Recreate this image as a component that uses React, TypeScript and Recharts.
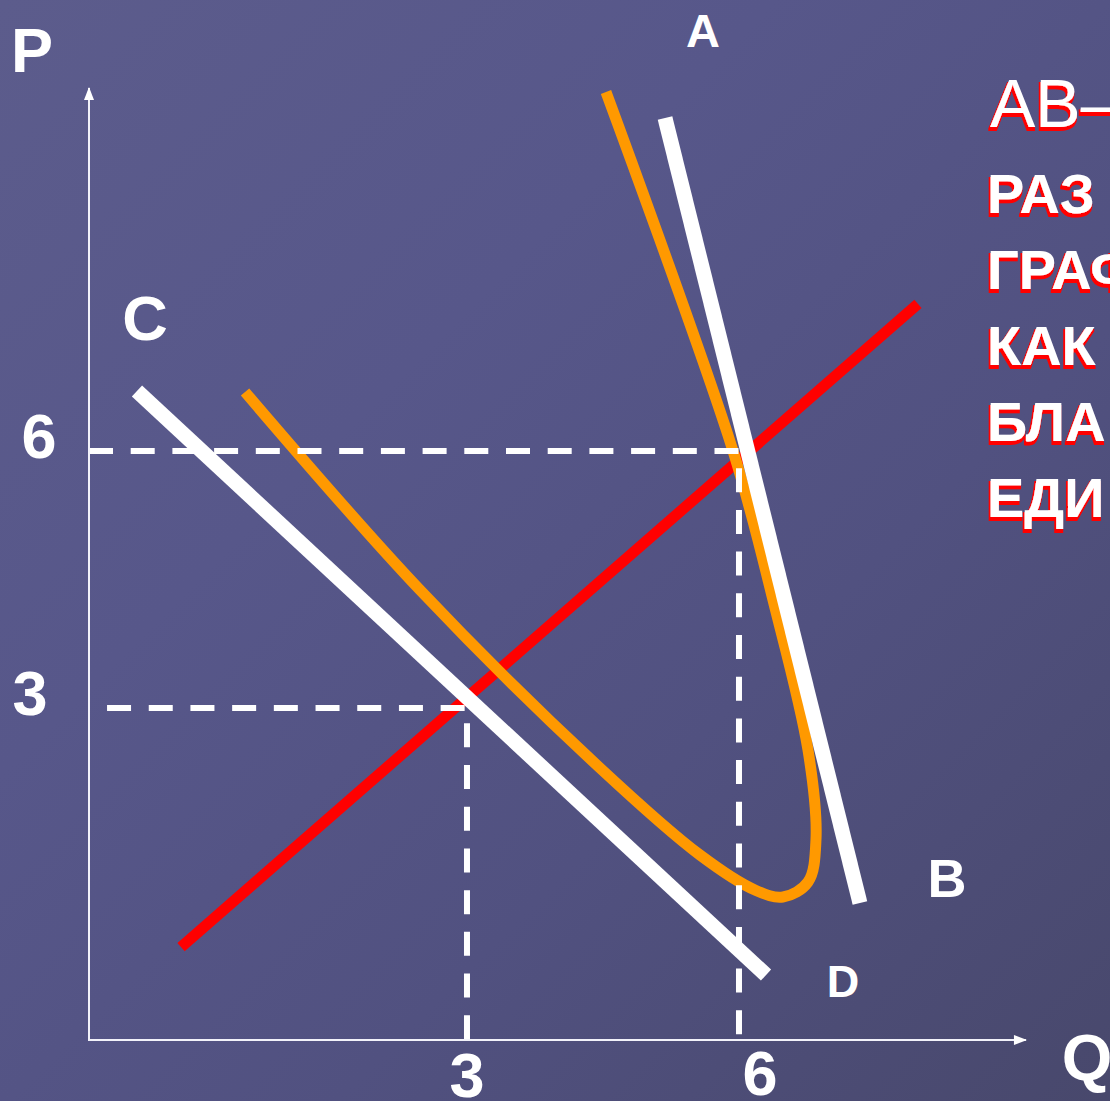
import React from "react";
import { LineChart, Line, XAxis, YAxis, LabelList } from "recharts";

const FONT = "'Liberation Sans', Arial, sans-serif";

const qTicks = [3, 6];
const pTicks = [3, 6];

// axis frame: top of P axis, origin, end of Q axis
const axisFrame = [
  { q: -1.169, p: 10.237, tag: "P" },
  { q: -1.169, p: -0.875 },
  { q: 9.165, p: -0.875, tag: "Q" },
];

// dashed guides down to the axes
const guide6 = [
  { q: -1.169, p: 6 },
  { q: 6, p: 6 },
  { q: 6, p: -0.875 },
];
const guide3 = [
  { q: -0.97, p: 3 },
  { q: 3, p: 3 },
  { q: 3, p: -0.875 },
];

const redLine = [
  { q: -0.154, p: 0.21 },
  { q: 7.974, p: 7.716 },
];

const lineCD = [
  { q: -0.64, p: 6.7, tag: "C" },
  { q: 6.298, p: -0.117, tag: "D" },
];

const lineAB = [
  { q: 5.184, p: 9.887, tag: "A" },
  { q: 7.334, p: 0.724, tag: "B" },
];

const orangeCurve = [
  { q: 4.533, p: 10.19 },
  { q: 5.934, p: 6.0 },
  { q: 6.375, p: 4.261 },
  { q: 6.761, p: 2.51 },
  { q: 6.849, p: 1.459 },
  { q: 6.761, p: 0.969 },
  { q: 6.485, p: 0.794 },
  { q: 6.176, p: 0.876 },
  { q: 5.57, p: 1.284 },
  { q: 4.467, p: 2.3 },
  { q: 2.482, p: 4.377 },
  { q: 0.552, p: 6.689 },
];

const sideText = ["AB–", "РАЗ", "ГРАФ", "КАК", "БЛА", "ЕДИ"];

// centripetal catmull-rom through the points
const catmullRom = (context: any) => {
  let pts: number[][] = [];
  const dist = (a: number[], b: number[]) => Math.hypot(a[0] - b[0], a[1] - b[1]);
  return {
    areaStart() {},
    areaEnd() {},
    lineStart() {
      pts = [];
    },
    point(x: number, y: number) {
      pts.push([+x, +y]);
    },
    lineEnd() {
      if (!pts.length) return;
      context.moveTo(pts[0][0], pts[0][1]);
      for (let i = 0; i < pts.length - 1; i++) {
        const p0 = pts[i - 1];
        const p1 = pts[i];
        const p2 = pts[i + 1];
        const p3 = pts[i + 2];
        const l12 = dist(p1, p2);
        const l12a = Math.sqrt(l12);
        let c1 = p1;
        let c2 = p2;
        if (p0) {
          const l01 = dist(p0, p1);
          const l01a = Math.sqrt(l01);
          if (l01a > 1e-6) {
            const a = 2 * l01 + 3 * l01a * l12a + l12;
            const n = 3 * l01a * (l01a + l12a);
            c1 = [
              (p1[0] * a - p0[0] * l12 + p2[0] * l01) / n,
              (p1[1] * a - p0[1] * l12 + p2[1] * l01) / n,
            ];
          }
        }
        if (p3) {
          const l23 = dist(p2, p3);
          const l23a = Math.sqrt(l23);
          if (l23a > 1e-6) {
            const b = 2 * l23 + 3 * l23a * l12a + l12;
            const m = 3 * l23a * (l23a + l12a);
            c2 = [
              (p2[0] * b + p1[0] * l23 - p3[0] * l12) / m,
              (p2[1] * b + p1[1] * l23 - p3[1] * l12) / m,
            ];
          }
        }
        context.bezierCurveTo(c1[0], c1[1], c2[0], c2[1], p2[0], p2[1]);
      }
    },
  };
};

const tagStyle: Record<string, [number, number, number]> = {
  A: [38, -71, 47],
  B: [87, -6, 54],
  C: [8, -51, 63],
  D: [77, 22, 45],
  P: [-57, -16, 63],
  Q: [61, 40, 65],
};

const renderTag = (props: any) => {
  const { x, y, value } = props;
  const s = tagStyle[value];
  if (!s) return null;
  return (
    <text
      x={x + s[0]}
      y={y + s[1]}
      textAnchor="middle"
      fill="#ffffff"
      fontSize={s[2]}
      fontWeight="bold"
      fontFamily={FONT}
    >
      {value}
    </text>
  );
};

const axisArrow = (props: any) => {
  const { cx, cy, index } = props;
  if (index === 0)
    return (
      <polygon
        key="up"
        points={`${cx},${cy - 1} ${cx - 5},${cy + 12} ${cx + 5},${cy + 12}`}
        fill="#ffffff"
      />
    );
  if (index === 2)
    return (
      <polygon
        key="right"
        points={`${cx + 1},${cy} ${cx - 12},${cy - 5} ${cx - 12},${cy + 5}`}
        fill="#ffffff"
      />
    );
  return <g key={`n${index}`} />;
};

const qNudge: Record<number, number[]> = { 3: [0, 57], 6: [21, 55] };
const pNudge: Record<number, number[]> = { 3: [-59, 7], 6: [-50, 7] };

const QTick = (props: any) => {
  const { x, y, payload } = props;
  const n = qNudge[payload.value] || [0, 57];
  return (
    <text x={x + n[0]} y={y + n[1]} textAnchor="middle" fill="#ffffff" fontSize={63} fontWeight="bold" fontFamily={FONT}>
      {payload.value}
    </text>
  );
};

const PTick = (props: any) => {
  const { x, y, payload } = props;
  const n = pNudge[payload.value] || [-50, 7];
  return (
    <text x={x + n[0]} y={y + n[1]} textAnchor="middle" fill="#ffffff" fontSize={63} fontWeight="bold" fontFamily={FONT}>
      {payload.value}
    </text>
  );
};

export default function App() {
  return (
    <div
      style={{
        position: "absolute",
        left: 0,
        top: 0,
        width: 1110,
        height: 1101,
        overflow: "hidden",
        background: "linear-gradient(135deg, #5c5c8c 0%, #57578a 35%, #515180 65%, #48486c 100%)",
      }}
    >
      <LineChart width={1110} height={1101} margin={{ top: 0, right: 0, bottom: 0, left: 0 }}>
        <XAxis
          type="number"
          dataKey="q"
          domain={[-1.169, 10.092]}
          ticks={qTicks}
          height={61}
          axisLine={false}
          tickLine={false}
          tickSize={0}
          tickMargin={0}
          tick={<QTick />}
          interval={0}
        />
        <YAxis
          type="number"
          dataKey="p"
          domain={[-0.875, 11.264]}
          ticks={pTicks}
          width={89}
          axisLine={false}
          tickLine={false}
          tickSize={0}
          tickMargin={0}
          tick={<PTick />}
          interval={0}
        />
        <Line data={redLine} dataKey="p" type="linear" stroke="#ff0000" strokeWidth={11} dot={false} activeDot={false} isAnimationActive={false} />
        <Line data={orangeCurve} dataKey="p" type={catmullRom as any} stroke="#ff9900" strokeWidth={11} dot={false} activeDot={false} isAnimationActive={false} />
        <Line data={lineCD} dataKey="p" type="linear" stroke="#ffffff" strokeWidth={15} dot={false} activeDot={false} isAnimationActive={false}>
          <LabelList dataKey="tag" content={renderTag} />
        </Line>
        <Line data={lineAB} dataKey="p" type="linear" stroke="#ffffff" strokeWidth={15} dot={false} activeDot={false} isAnimationActive={false}>
          <LabelList dataKey="tag" content={renderTag} />
        </Line>
        <Line data={guide6} dataKey="p" type="linear" stroke="#ffffff" strokeWidth={6} strokeDasharray="24 17.7" dot={false} activeDot={false} isAnimationActive={false} />
        <Line data={guide3} dataKey="p" type="linear" stroke="#ffffff" strokeWidth={6} strokeDasharray="24 17.7" dot={false} activeDot={false} isAnimationActive={false} />
        <Line data={axisFrame} dataKey="p" type="linear" stroke="#f2f2fa" strokeWidth={2} dot={axisArrow} activeDot={false} isAnimationActive={false}>
          <LabelList dataKey="tag" content={renderTag} />
        </Line>
      </LineChart>
      <svg width={1110} height={1101} style={{ position: "absolute", left: 0, top: 0, pointerEvents: "none" }}>
        <defs>
          <filter id="redShadow" x="-10%" y="-10%" width="130%" height="140%">
            <feMorphology in="SourceAlpha" operator="dilate" radius="0.8" result="fat" />
            <feOffset in="fat" dx="-1" dy="3" result="moved" />
            <feFlood floodColor="#ff0000" result="red" />
            <feComposite in="red" in2="moved" operator="in" result="shadow" />
            <feMerge>
              <feMergeNode in="shadow" />
              <feMergeNode in="SourceGraphic" />
            </feMerge>
          </filter>
        </defs>
        {sideText.map((t, i) => {
          const first = i === 0;
          return (
            <text
              key={t}
              x={first ? 990 : 987}
              y={first ? 127 : 213 + (i - 1) * 76}
              fill="#ffffff"
              fontFamily={FONT}
              fontSize={first ? 68 : 56}
              fontWeight={first ? "normal" : "bold"}
              filter="url(#redShadow)"
            >
              {t}
            </text>
          );
        })}
      </svg>
    </div>
  );
}
